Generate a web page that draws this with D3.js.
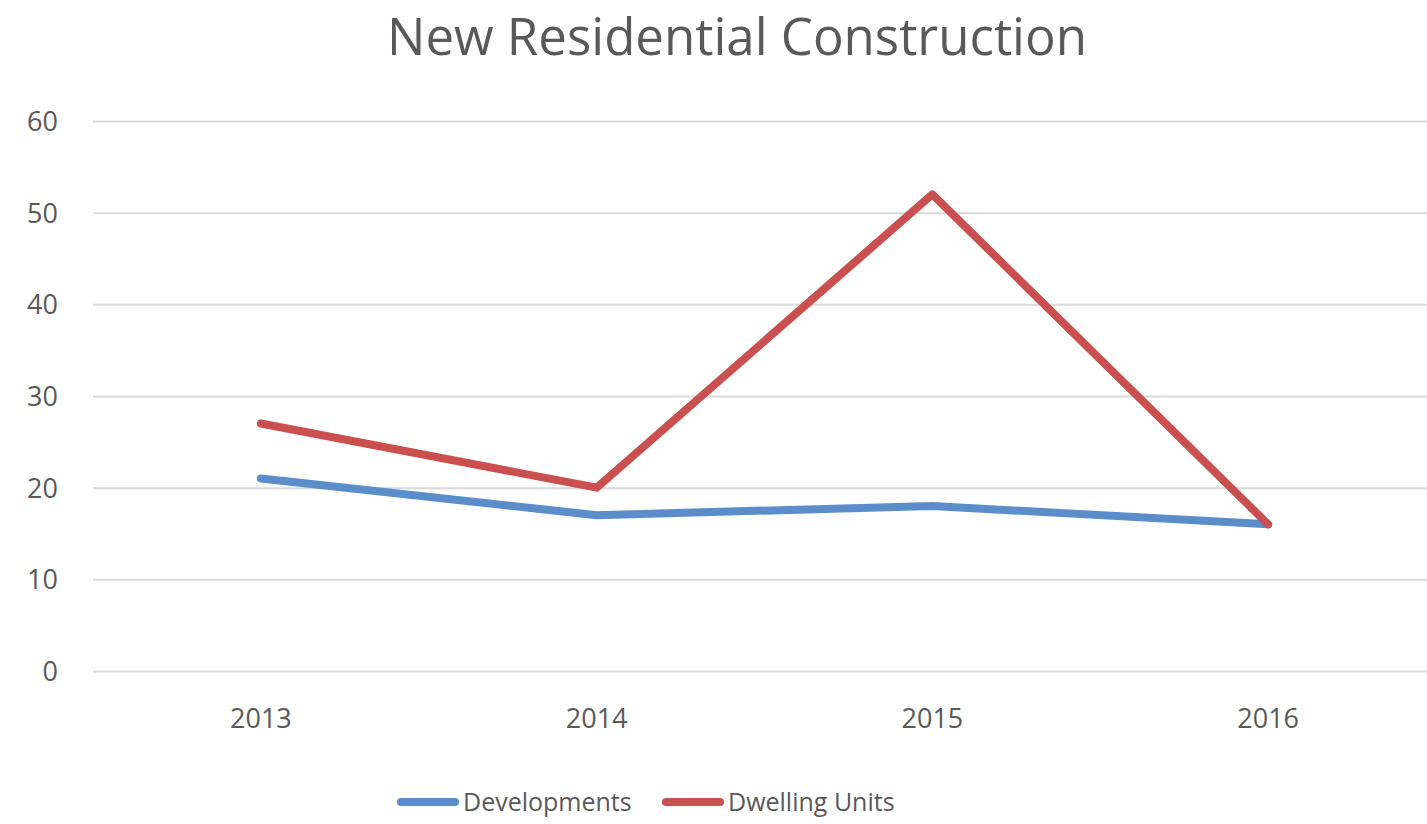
<!DOCTYPE html>
<meta charset="utf-8">
<script src="https://d3js.org/d3.v7.min.js"></script>
<style>
body { margin: 0; background: #fff; }
svg { display: block; font-family: "Open Sans", Lato, sans-serif; }
.grid line { stroke: #d9d9d9; stroke-width: 2px; }
.grid path { display: none; }
.axis text { fill: #595959; font-size: 27px; font-family: "Open Sans", Lato, sans-serif; }
.axis path, .axis line { display: none; }
.title { fill: #595959; font-size: 51px; }
.legend text { fill: #595959; font-size: 25px; }
</style>
<body></body>
<script>

var years = ["2013", "2014", "2015", "2016"];
var developments = [21, 17, 18, 16];
var dwellingUnits = [27, 20, 52, 16];
var yTicks = [0, 10, 20, 30, 40, 50, 60];

var series = [
  {name: "Developments", values: developments, color: "#5B8DCB"},
  {name: "Dwelling Units", values: dwellingUnits, color: "#C9504F"}
];

var width = 1427, height = 824;
var margin = {top: 121, right: -9, bottom: 153, left: 93};

var svg = d3.select("body").append("svg")
  .attr("width", width)
  .attr("height", height);

var x = d3.scaleBand()
  .domain(years)
  .range([margin.left, width - margin.right]);

var y = d3.scaleLinear()
  .domain([0, 60])
  .range([height - margin.bottom, margin.top]);

// gridlines
svg.append("g")
  .attr("class", "grid")
  .attr("transform", "translate(" + margin.left + ",0)")
  .call(d3.axisLeft(y).tickValues(yTicks).tickSize(-(width - margin.left - margin.right)).tickFormat(""));

// y axis labels
svg.append("g")
  .attr("class", "axis")
  .attr("transform", "translate(58,0)")
  .call(d3.axisLeft(y).tickValues(yTicks).tickSize(0).tickPadding(0))
  .selectAll("text").attr("dy", "0.35em");

// x axis labels
svg.append("g")
  .attr("class", "axis")
  .attr("transform", "translate(0," + (height - margin.bottom) + ")")
  .call(d3.axisBottom(x).tickSize(0).tickPadding(0))
  .selectAll("text").attr("dy", 0).attr("y", 57);

// lines
var line = d3.line()
  .x(function(d, i) { return x(years[i]) + x.bandwidth() / 2; })
  .y(function(d) { return y(d); });

svg.selectAll(".series")
  .data(series).enter().append("path")
  .attr("class", "series")
  .attr("fill", "none")
  .attr("stroke", function(d) { return d.color; })
  .attr("stroke-width", 8)
  .attr("stroke-linecap", "round")
  .attr("stroke-linejoin", "round")
  .attr("d", function(d) { return line(d.values); });

// title
svg.append("text")
  .attr("class", "title")
  .attr("x", 737)
  .attr("y", 55)
  .attr("text-anchor", "middle")
  .text("New Residential Construction");

// legend
var legendX = [401, 666];
var legend = svg.selectAll(".legend")
  .data(series).enter().append("g")
  .attr("class", "legend")
  .attr("transform", function(d, i) { return "translate(" + legendX[i] + ",802)"; });

legend.append("line")
  .attr("x1", 0).attr("x2", 54)
  .attr("stroke", function(d) { return d.color; })
  .attr("stroke-width", 8)
  .attr("stroke-linecap", "round");

legend.append("text")
  .attr("x", 62)
  .attr("dy", "0.35em")
  .text(function(d) { return d.name; });

</script>
